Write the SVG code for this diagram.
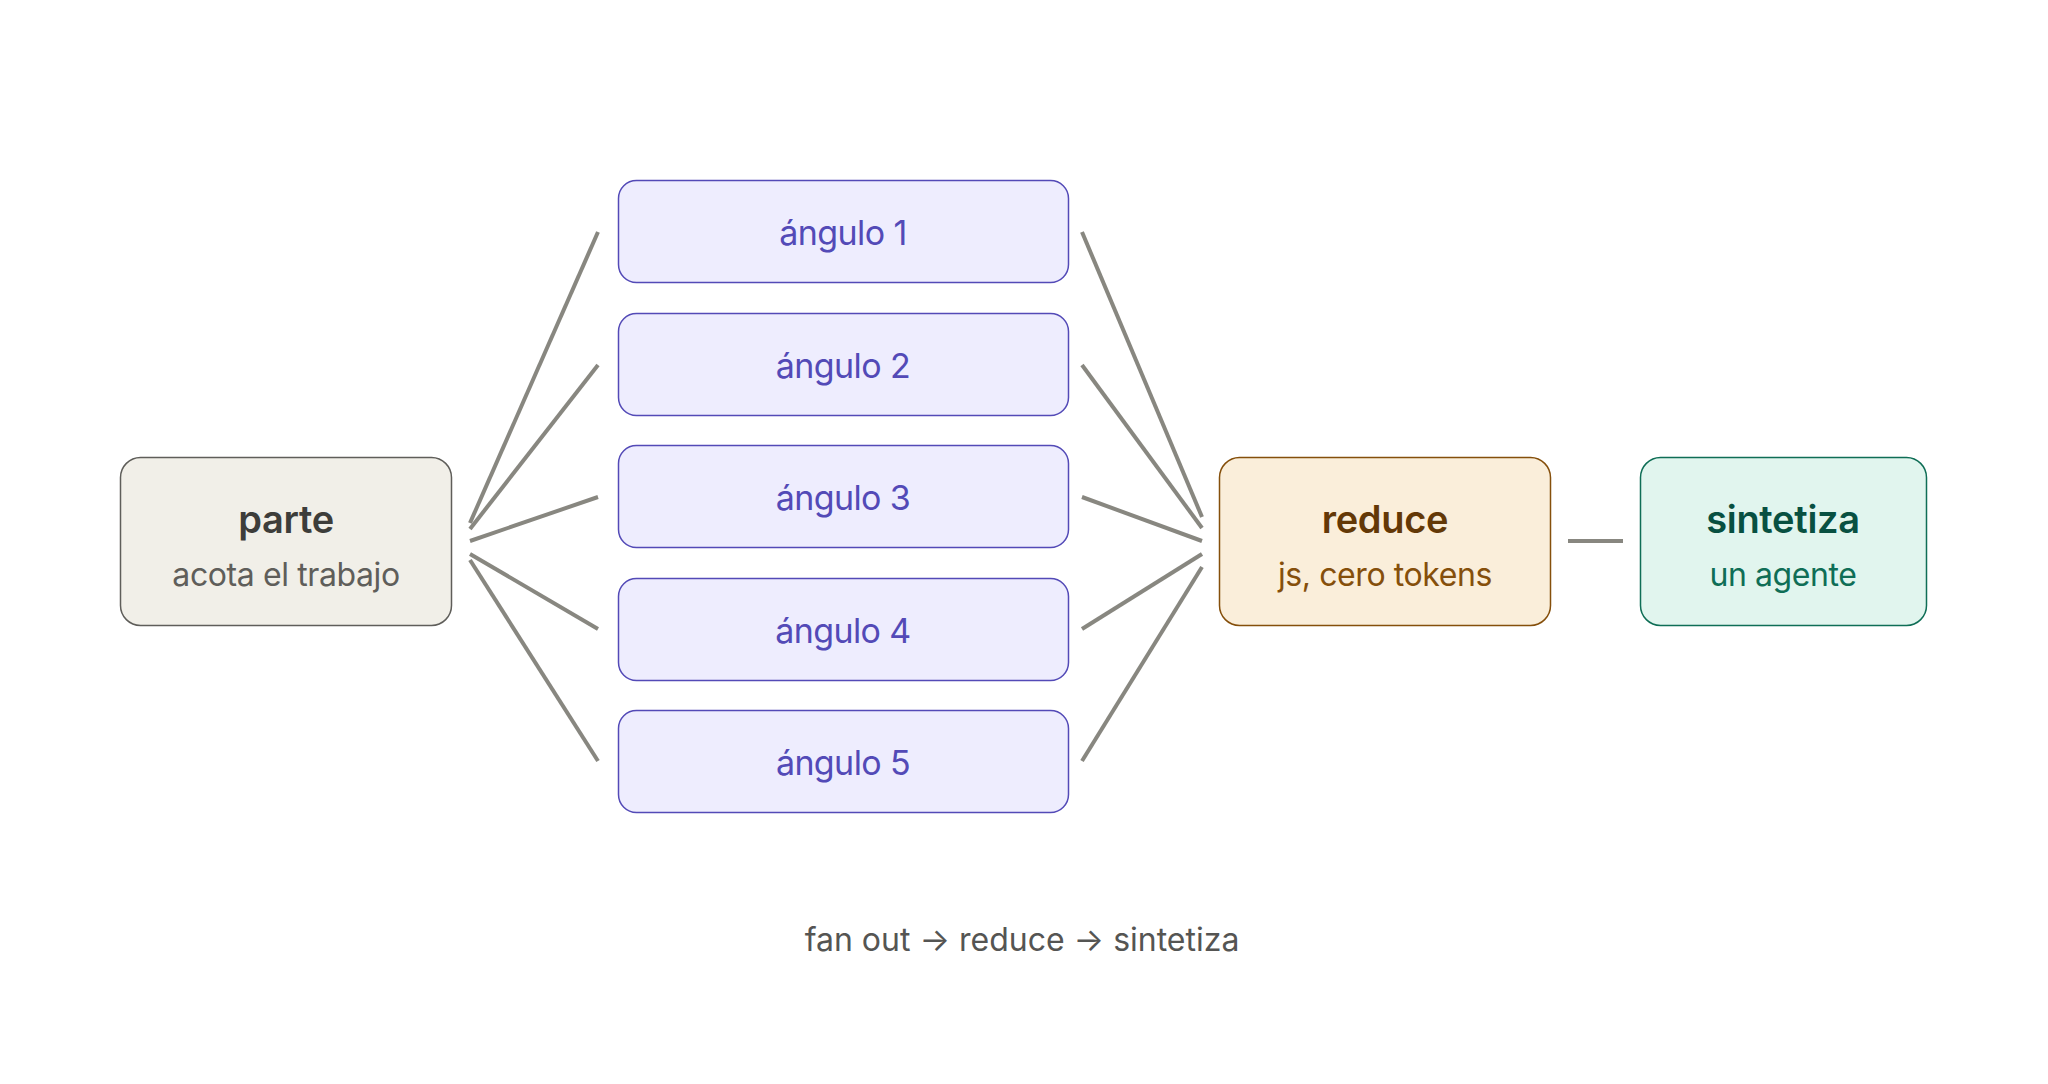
<svg xmlns="http://www.w3.org/2000/svg" width="2048" height="1084" viewBox="0 0 2048 1084">
<style>
text{font-family:Inter,"Noto Sans","Liberation Sans",sans-serif;text-anchor:middle}
.ttl{font-size:38px;font-weight:600;letter-spacing:-0.3px}
.sub{font-size:32px;font-weight:400;letter-spacing:-0.4px}
.ang rect{fill:#eeedfe;stroke:#534ab7;stroke-width:1.5}
.ang text{fill:#534ab7;font-size:34px;letter-spacing:-0.6px}
.conn line{stroke:#888780;stroke-width:4;stroke-linecap:butt}
</style>
<rect width="2048" height="1084" fill="#ffffff"/>
<g id="parte">
<rect x="120.5" y="457.5" width="331" height="168" rx="20" fill="#f1efe8" stroke="#5f5e5a" stroke-width="1.5"/>
<text class="ttl" x="286" y="533" fill="#3d3d3a">parte</text>
<text class="sub" x="286" y="586" fill="#5f5e5a">acota el trabajo</text>
</g>
<g id="angulo1" class="ang"><rect x="618.5" y="180.5" width="450" height="102" rx="18"/><text x="843" y="245">ángulo 1</text></g>
<g id="angulo2" class="ang"><rect x="618.5" y="313.5" width="450" height="102" rx="18"/><text x="843" y="378">ángulo 2</text></g>
<g id="angulo3" class="ang"><rect x="618.5" y="445.5" width="450" height="102" rx="18"/><text x="843" y="510">ángulo 3</text></g>
<g id="angulo4" class="ang"><rect x="618.5" y="578.5" width="450" height="102" rx="18"/><text x="843" y="643">ángulo 4</text></g>
<g id="angulo5" class="ang"><rect x="618.5" y="710.5" width="450" height="102" rx="18"/><text x="843" y="775">ángulo 5</text></g>
<g id="reduce">
<rect x="1219.5" y="457.5" width="331" height="168" rx="20" fill="#faeeda" stroke="#854f0b" stroke-width="1.5"/>
<text class="ttl" x="1385" y="533" fill="#633806">reduce</text>
<text class="sub" x="1385" y="586" fill="#854f0b">js, cero tokens</text>
</g>
<g id="sintetiza">
<rect x="1640.5" y="457.5" width="286" height="168" rx="20" fill="#e1f5ee" stroke="#0f6e56" stroke-width="1.5"/>
<text class="ttl" x="1783" y="533" fill="#085041">sintetiza</text>
<text class="sub" x="1783" y="586" fill="#0f6e56">un agente</text>
</g>
<g id="connectors" class="conn">
<line x1="470" y1="523" x2="598" y2="232"/>
<line x1="470" y1="529" x2="598" y2="365"/>
<line x1="470" y1="541" x2="598" y2="497"/>
<line x1="470" y1="554" x2="598" y2="629"/>
<line x1="470" y1="560" x2="598" y2="761"/>
<line x1="1082" y1="232" x2="1202" y2="517"/>
<line x1="1082" y1="365" x2="1202" y2="528"/>
<line x1="1082" y1="497" x2="1202" y2="541"/>
<line x1="1082" y1="629" x2="1202" y2="554"/>
<line x1="1082" y1="761" x2="1202" y2="567"/>
<line x1="1568" y1="541" x2="1623" y2="541"/>
</g>
<text x="1022" y="951" font-size="32" fill="#555553">fan out → reduce → sintetiza</text>
</svg>
